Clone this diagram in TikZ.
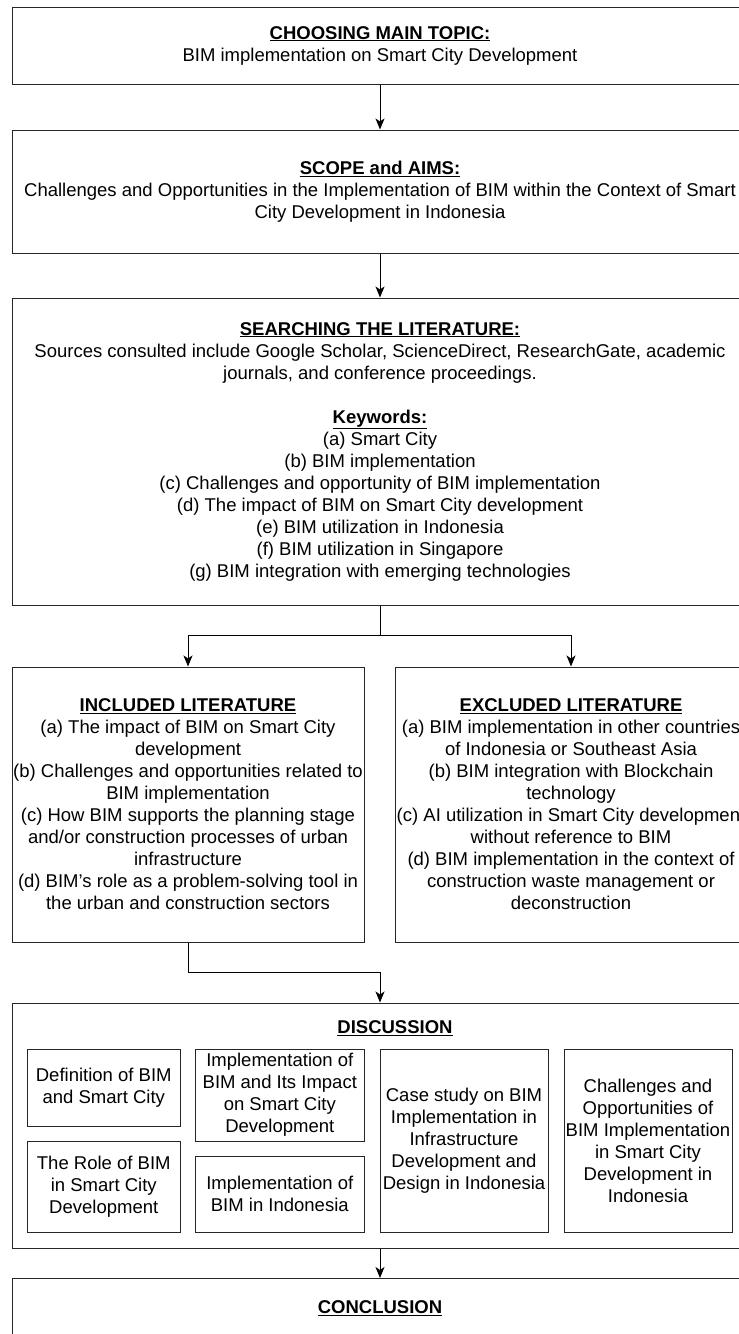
\documentclass[tikz,border=0pt]{standalone}
\usepackage{fontspec}
\setmainfont{Liberation Sans}
\usepackage{tikz}
\usetikzlibrary{arrows.meta}
\usetikzlibrary{calc}

\newcommand{\hd}[1]{\underline{\textbf{#1}}}

\begin{document}
\begin{tikzpicture}[x=1pt,y=-1pt,inner sep=0pt,line width=1pt,>={Stealth[length=11pt,width=9pt,inset=3pt]},
  box/.style={draw=black!85,align=center,font=\fontsize{18.5}{22}\selectfont},
  txt/.style={align=center,font=\fontsize{18.5}{22}\selectfont}]
\useasboundingbox (0,0) rectangle (739,1334);
\clip (0,0) rectangle (739,1334);
\node [box,minimum width=736,minimum height=77] (topic) at (380,45.5)
  {\hd{CHOOSING MAIN TOPIC:}\\BIM implementation on Smart City Development};
\node [box,minimum width=736,minimum height=123] (scope) at (380,191.5)
  {\hd{SCOPE and AIMS:}\\Challenges and Opportunities in the Implementation of BIM within the Context of Smart\\City Development in Indonesia};
\node [box,minimum width=736,minimum height=307] (search) at (380,451.5)
  {\hd{SEARCHING THE LITERATURE:}\\Sources consulted include Google Scholar, ScienceDirect, ResearchGate, academic\\journals, and conference proceedings.\\[22pt]
   \hd{Keywords:}\\(a) Smart City\\(b) BIM implementation\\(c) Challenges and opportunity of BIM implementation\\
   (d) The impact of BIM on Smart City development\\(e) BIM utilization in Indonesia\\(f) BIM utilization in Singapore\\
   (g) BIM integration with emerging technologies};
\node [box,minimum width=352,minimum height=275] (incl) at (188,804.5)
  {\hd{INCLUDED LITERATURE}\\(a) The impact of BIM on Smart City\\development\\(b) Challenges and opportunities related to\\BIM implementation\\
   (c) How BIM supports the planning stage\\and/or construction processes of urban\\infrastructure\\
   (d) BIM’s role as a problem-solving tool in\\the urban and construction sectors};
\node [box,minimum width=352,minimum height=275] (excl) at (571,804.5)
  {\hd{EXCLUDED LITERATURE}\\(a) BIM implementation in other countries\\of Indonesia or Southeast Asia\\(b) BIM integration with Blockchain\\technology\\
   (c) AI utilization in Smart City development\\without reference to BIM\\(d) BIM implementation in the context of\\
   construction waste management or\\deconstruction};
\node [box,minimum width=736,minimum height=245] (disc) at (380,1125.5) {};
\node [txt] (disctitle) at (395,1028) {\hd{DISCUSSION}};
\node [box,minimum width=153.5,minimum height=77] (defn) at (103.75,1087.5) {Definition of BIM\\and Smart City};
\node [box,minimum width=153.5,minimum height=91] (role) at (103.75,1186.5) {The Role of BIM\\in Smart City\\Development};
\node [box,minimum width=168.4,minimum height=92] (impact) at (279.8,1095) {Implementation of\\BIM and Its Impact\\on Smart City\\Development};
\node [box,minimum width=168.4,minimum height=76] (indo) at (279.8,1194) {Implementation of\\BIM in Indonesia};
\node [box,minimum width=168,minimum height=183] (case) at (464,1140.5) {Case study on BIM\\Implementation in\\Infrastructure\\Development and\\Design in Indonesia};
\node [box,minimum width=168,minimum height=183] (chall) at (648,1140.5) {Challenges and\\Opportunities of\\BIM Implementation\\in Smart City\\Development in\\Indonesia};
\node [box,anchor=north,minimum width=736,minimum height=60] (concl) at (380,1278) {\hd{CONCLUSION}};
\draw [->] (topic.south) -- (scope.north);
\draw [->] (scope.south) -- (search.north);
\draw [->] (search.south) -- ++(0,30) -| (incl.north);
\draw [->] (search.south) -- ++(0,30) -| (excl.north);
\draw [->] (incl.south) -- ++(0,30) -| (disc.north);
\draw [->] (disc.south) -- (concl.north);
\end{tikzpicture}
\end{document}
